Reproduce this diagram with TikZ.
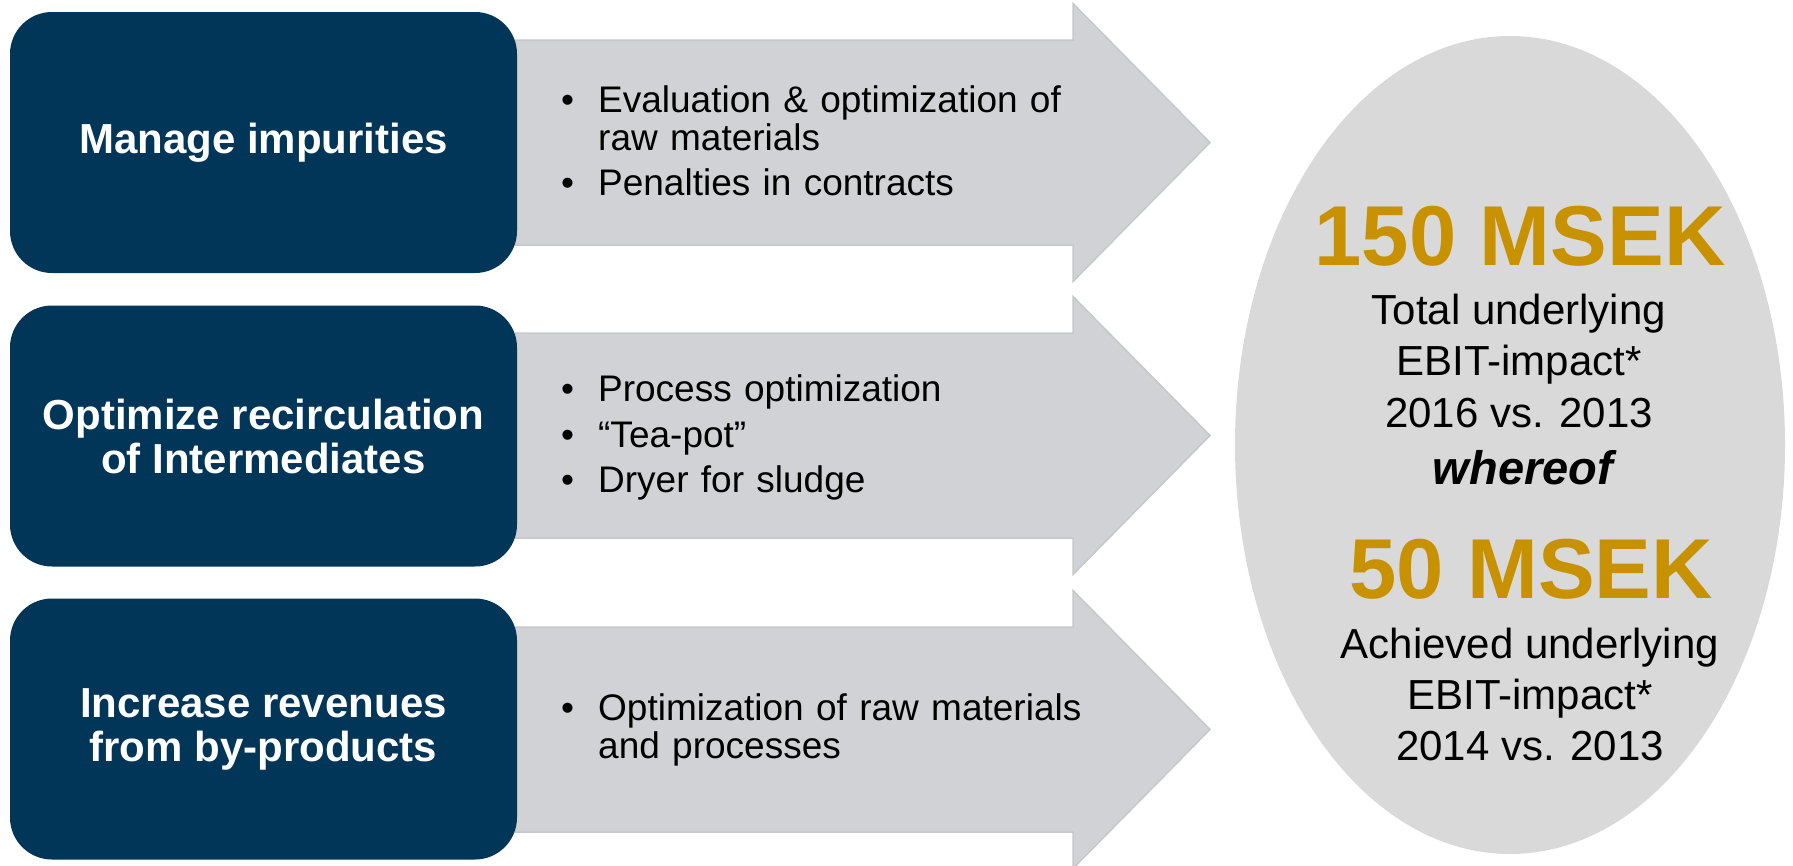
\documentclass[tikz,border=0pt]{standalone}
\usepackage{fontspec}
\setmainfont{Liberation Sans}
\usetikzlibrary{shapes.geometric}
\definecolor{navy}{RGB}{2,54,88}
\definecolor{arrowgray}{RGB}{209,210,214}
\definecolor{arrowedge}{RGB}{199,200,204}
\definecolor{ellgray}{RGB}{217,217,217}
\definecolor{gold}{RGB}{200,145,0}
\begin{document}
\begin{tikzpicture}[x=1pt,y=-1pt,
  goal/.style={fill=navy, draw=none, rounded corners=42pt, minimum width=507pt,
    minimum height=261pt, inner sep=0pt, text=white, align=center,
    font=\fontsize{42}{44}\selectfont\bfseries},
  arrowshape/.style={fill=arrowgray, draw=arrowedge, line width=1.5pt, line join=miter},
  bullets/.style={anchor=base west, text width=540pt, inner sep=0pt, align=left,
    font=\fontsize{37}{38}\selectfont},
  big/.style={anchor=base, inner sep=0pt, text=gold, font=\fontsize{85}{90}\selectfont\bfseries},
  small/.style={anchor=base, inner sep=0pt, font=\fontsize{42}{50}\selectfont}]
\useasboundingbox (0,0) rectangle (1793,865);

% result ellipse
\node[ellipse, fill=ellgray, minimum width=550pt, minimum height=818pt, inner sep=0pt] (result) at (1510,445) {};

% arrows
\foreach \c in {142.5,435.5,729.5}{
  \draw[arrowshape] (515,\c-102.5) -- (1073,\c-102.5) -- (1073,\c-139) -- (1210,\c)
    -- (1073,\c+139) -- (1073,\c+102.5) -- (515,\c+102.5) -- cycle;
}

% goal boxes
\node[goal] (g1) at (263.5,142.5) {Manage impurities};
\node[goal] (g2) at (263.5,436) {Optimize recirculation\\of Intermediates};
\node[goal] (g3) at (263.5,729) {Increase revenues\\from by-products};

% bullet texts
\newcommand\blt{\llap{\makebox[37pt][l]{•}}}
\node[bullets] (b11) at (598,112) {\blt Evaluation \& optimization of\\raw materials};
\node[bullets] (b12) at (598,195) {\blt Penalties in contracts};
\node[bullets] (b21) at (598,401) {\blt Process optimization};
\node[bullets] (b22) at (598,447) {\blt “Tea-pot”};
\node[bullets] (b23) at (598,492) {\blt Dryer for sludge};
\node[bullets] (b31) at (598,720) {\blt Optimization of raw materials\\and processes};

% result texts
\node[big] (t150) at (1520,265) {150 MSEK};
\node[small] (tl1) at (1519,324) {Total underlying};
\node[small] (tl2) at (1519,375) {EBIT-impact*};
\node[small] (tl3) at (1519,427) {2016 vs. 2013};
\node[small, font=\fontsize{47}{50}\selectfont\bfseries\itshape] (wh) at (1523,484) {whereof};
\node[big] (t50) at (1531,598) {50 MSEK};
\node[small] (al1) at (1530,658) {Achieved underlying};
\node[small] (al2) at (1530,709) {EBIT-impact*};
\node[small] (al3) at (1530,760) {2014 vs. 2013};
\end{tikzpicture}
\end{document}
